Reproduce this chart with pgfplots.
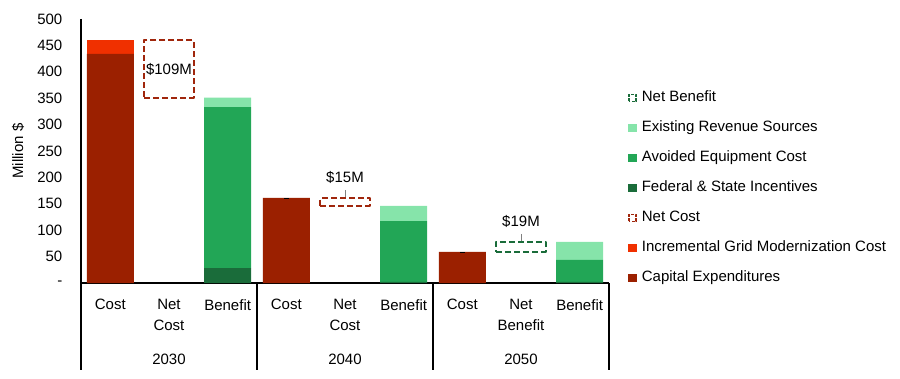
\documentclass[border=0pt]{standalone}
\usepackage{pgfplots}
\usepackage{pgfplotstable}
\pgfplotsset{compat=1.18}
\usepackage{fontspec}
\setmainfont{Liberation Sans}
\definecolor{capcol}{RGB}{155,32,0}
\definecolor{inccol}{RGB}{240,48,0}
\definecolor{fedcol}{RGB}{26,108,58}
\definecolor{avcol}{RGB}{34,166,86}
\definecolor{excol}{RGB}{134,228,170}
\definecolor{ncol}{RGB}{160,38,12}
\definecolor{nbcol}{RGB}{26,108,58}

\pgfplotstableread{
x cap inc fed av ex
0 434 26 0   0   0
1 0   0  0   0   0
2 0   0  28  305 18
3 161 0  0   0   0
4 0   0  0   0   0
5 0   0  2   115 29
6 59  0  0   0   0
7 0   0  0   0   0
8 0   0  2   42  34
}\data

\pgfplotsset{
  base/.style={
    scale only axis, width=528pt, height=264pt,
    xmin=-0.5, xmax=8.5, ymin=0, ymax=500,
    clip=false, at={(0pt,0pt)}, anchor=south west,
  },
  netbox/.style={line width=2pt, dash pattern=on 6pt off 3pt, line join=round, forget plot},
}
\begin{document}
\begin{tikzpicture}[font=\fontsize{15}{21}\selectfont]
\begin{axis}[base, name=ax,
  ybar stacked, bar width=0.8,
  axis line style={draw=none},
  xtick={0,...,8},
  xticklabels={Cost,{Net\\Cost},Benefit,Cost,{Net\\Cost},Benefit,Cost,{Net\\Benefit},Benefit},
  xticklabel style={align=center, anchor=north, inner sep=0pt, yshift=-16pt},
  xtick style={draw=none},
  ytick={0,50,...,500},
  yticklabels={{-\hspace{7pt}},50,100,150,200,250,300,350,400,450,500},
  yticklabel style={anchor=east, inner sep=0pt, xshift=-18.5pt},
  ytick style={draw=none},
  ylabel={Million \$},
  every axis y label/.style={at={(axis description cs:-0.119,0.5)}, rotate=90, anchor=center},
]
\addplot[fill=capcol, draw=none, forget plot] table[x=x, y=cap]{\data};
\addplot[fill=inccol, draw=none, forget plot] table[x=x, y=inc]{\data};
\addplot[fill=fedcol, draw=none, forget plot] table[x=x, y=fed]{\data};
\addplot[fill=avcol, draw=none, forget plot] table[x=x, y=av]{\data};
\addplot[fill=excol, draw=none, forget plot] table[x=x, y=ex]{\data};
\draw[line width=1.6pt] (rel axis cs:0,1) -- (rel axis cs:0,0) -- ++(0pt,-87pt);
\draw[line width=1.8pt] (rel axis cs:0,0) -- (rel axis cs:1,0);
\draw[line width=1.6pt] (axis cs:2.5,0) -- ++(0pt,-87pt);
\draw[line width=1.6pt] (axis cs:5.5,0) -- ++(0pt,-87pt);
\draw[line width=1.6pt] (axis cs:8.5,0) -- ++(0pt,-87pt);
\node[anchor=north, inner sep=0pt, yshift=-71pt] at (axis cs:1,0) {2030};
\node[anchor=north, inner sep=0pt, yshift=-71pt] at (axis cs:4,0) {2040};
\node[anchor=north, inner sep=0pt, yshift=-71pt] at (axis cs:7,0) {2050};
\end{axis}
\begin{axis}[base, hide axis,
  legend style={at={(rel axis cs:1.03,0.735)}, anchor=north west, draw=none, fill=none,
    row sep=16.5pt, nodes={inner sep=0pt, text height=10.5pt, text depth=3pt},
    /tikz/every odd column/.append style={column sep=5pt}},
  legend cell align=left,
]
\addplot[ncol, netbox] coordinates {(0.58,351) (1.42,351) (1.42,460) (0.58,460)} -- cycle;
\addplot[ncol, netbox] coordinates {(3.58,146) (4.42,146) (4.42,161) (3.58,161)} -- cycle;
\addplot[nbcol, netbox] coordinates {(6.58,59) (7.42,59) (7.42,78) (6.58,78)} -- cycle;
\addplot[gray, line width=0.6pt, forget plot] coordinates {(4,176) (4,163)};
\addplot[gray, line width=0.6pt, forget plot] coordinates {(7,93) (7,80)};
\addplot[only marks, mark=-, mark size=2.5pt, black, forget plot] coordinates {(3,161) (6,59)};
\node at (axis cs:1,405) {\$109M};
\node at (axis cs:4,199) {\$15M};
\node at (axis cs:7,116) {\$19M};
\addlegendimage{legend image code/.code={\draw[nbcol, line width=1.6pt, dash pattern=on 3pt off 1.5pt] (0.8pt,-3.5pt) rectangle (7.8pt,3.5pt);}}
\addlegendentry{Net Benefit}
\addlegendimage{legend image code/.code={\fill[excol] (0pt,-3.7pt) rectangle (7.5pt,3.7pt);}}
\addlegendentry{Existing Revenue Sources}
\addlegendimage{legend image code/.code={\fill[avcol] (0pt,-3.7pt) rectangle (7.5pt,3.7pt);}}
\addlegendentry{Avoided Equipment Cost}
\addlegendimage{legend image code/.code={\fill[fedcol] (0pt,-3.7pt) rectangle (7.5pt,3.7pt);}}
\addlegendentry{Federal \& State Incentives}
\addlegendimage{legend image code/.code={\draw[ncol, line width=1.6pt, dash pattern=on 3pt off 1.5pt] (0.8pt,-3.5pt) rectangle (7.8pt,3.5pt);}}
\addlegendentry{Net Cost}
\addlegendimage{legend image code/.code={\fill[inccol] (0pt,-3.7pt) rectangle (7.5pt,3.7pt);}}
\addlegendentry{Incremental Grid Modernization Cost}
\addlegendimage{legend image code/.code={\fill[capcol] (0pt,-3.7pt) rectangle (7.5pt,3.7pt);}}
\addlegendentry{Capital Expenditures}
\end{axis}
\pgfresetboundingbox
\path (ax.south west) +(-81pt,-95pt) rectangle +(819pt,283pt);
\end{tikzpicture}
\end{document}
